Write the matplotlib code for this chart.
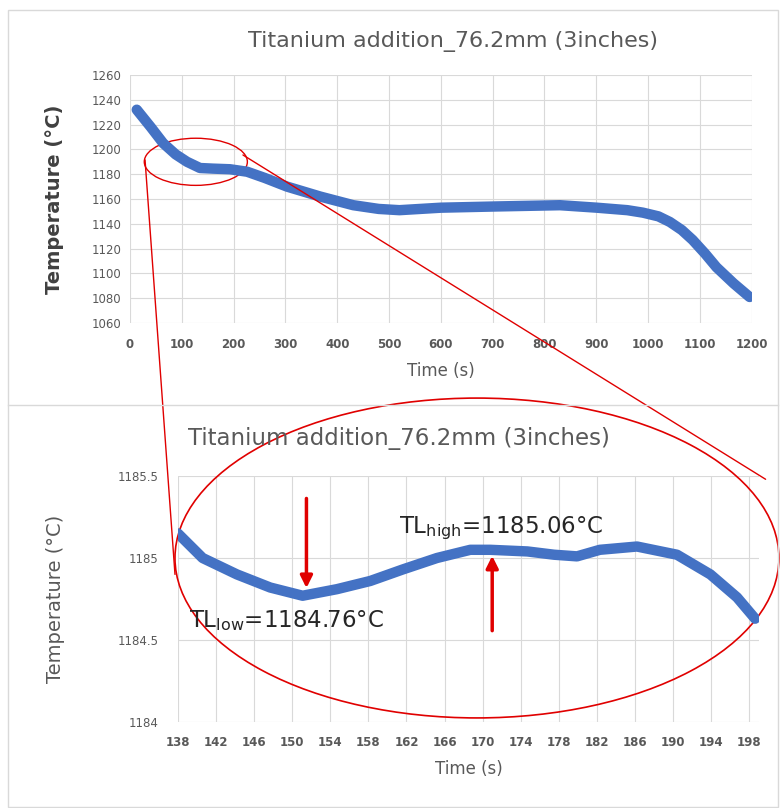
import numpy as np
import matplotlib.pyplot as plt
from matplotlib.patches import Ellipse, ConnectionPatch, Rectangle
from matplotlib.lines import Line2D

plt.rcParams['font.family'] = ['DejaVu Sans']
plt.rcParams['mathtext.default'] = 'regular'

# Curva completa
t_full = [13, 40, 64, 88, 110, 135, 160, 193, 226, 260, 303, 367, 431, 480, 520,
          600, 708, 830, 901, 960, 990, 1020, 1042, 1065, 1086, 1110, 1132, 1165, 1196]
T_full = [1232, 1218, 1205, 1196, 1190, 1185, 1184.5, 1184, 1182, 1177, 1170, 1162,
          1155, 1152, 1151, 1153, 1154, 1155, 1153, 1151, 1149, 1146, 1141.5, 1135,
          1127, 1116, 1105, 1092, 1081]

# Zoom entre 138 y 199 s
t_zoom = [138, 140.6, 144.2, 147.7, 151.1, 154.7, 158.2, 161.6, 165.2, 168.7, 170.8,
          174.7, 177.5, 179.9, 182.3, 186.2, 190.4, 193.9, 196.7, 198.6]
T_zoom = [1185.15, 1185.0, 1184.90, 1184.82, 1184.77, 1184.81, 1184.86, 1184.93,
          1185.0, 1185.05, 1185.05, 1185.04, 1185.02, 1185.01, 1185.05, 1185.07,
          1185.02, 1184.90, 1184.76, 1184.63]

T_low, t_low = 1184.76, 151.5
T_high, t_high = 1185.06, 171

titulo = 'Titanium addition_76.2mm (3inches)'
azul = '#4472C4'
gris = '#595959'
rojo = '#e00000'

fig = plt.figure(figsize=(7.8, 8.08), dpi=100)

# Marcos de los dos graficos
fig.add_artist(Rectangle((8/780, 1/808), 770/780, 797/808, transform=fig.transFigure,
                         fill=False, ec='#d9d9d9', lw=1))
fig.add_artist(Line2D([8/780, 778/780], [1-405/808, 1-405/808], transform=fig.transFigure,
                      color='#d9d9d9', lw=1))

# ---------------- grafico superior ----------------
ax1 = fig.add_axes([0.1667, 0.6002, 0.797, 0.307])
ax1.plot(t_full, T_full, color=azul, lw=7.5, solid_capstyle='round', solid_joinstyle='round')
ax1.set_xlim(0, 1200)
ax1.set_ylim(1060, 1260)
ax1.set_xticks(np.arange(0, 1201, 100))
ax1.set_yticks(np.arange(1060, 1261, 20))
ax1.grid(color='#d9d9d9', lw=0.8)
ax1.set_axisbelow(True)
for s in ax1.spines.values():
    s.set_visible(False)
ax1.tick_params(length=0, labelsize=8.5, labelcolor=gris)
ax1.tick_params(axis='x', pad=11)
ax1.tick_params(axis='y', pad=6)
for lab in ax1.get_xticklabels():
    lab.set_fontweight('bold')
ax1.set_title(titulo, fontsize=16, color=gris, pad=20, x=0.52)
ax1.set_xlabel('Time (s)', fontsize=12, color=gris, labelpad=8)
ax1.set_ylabel('Temperature (°C)', fontsize=14, color='#404040', fontweight='bold', labelpad=20)

# ---------------- grafico inferior ----------------
ax2 = fig.add_axes([0.228, 0.1064, 0.745, 0.3045])
ax2.plot(t_zoom, T_zoom, color=azul, lw=7.5, solid_capstyle='round', solid_joinstyle='round')
ax2.set_xlim(138, 199)
ax2.set_ylim(1184, 1185.5)
ax2.set_xticks(np.arange(138, 199, 4))
ax2.set_yticks([1184, 1184.5, 1185, 1185.5])
ax2.set_yticklabels(['1184', '1184.5', '1185', '1185.5'])
ax2.grid(color='#d9d9d9', lw=0.8)
ax2.set_axisbelow(True)
for s in ax2.spines.values():
    s.set_visible(False)
ax2.tick_params(length=0, labelsize=8.5, labelcolor=gris)
ax2.tick_params(axis='x', pad=10)
ax2.tick_params(axis='y', pad=14)
for lab in ax2.get_xticklabels():
    lab.set_fontweight('bold')
ax2.set_title(titulo, fontsize=16.5, color=gris, pad=22, x=0.38)
ax2.set_xlabel('Time (s)', fontsize=12, color=gris, labelpad=8)
ax2.set_ylabel('Temperature (°C)', fontsize=14, color=gris, labelpad=38)

# flechas y textos
ax2.annotate('', xy=(t_low, T_low + 0.04), xytext=(t_low, 1185.38),
             arrowprops=dict(arrowstyle='-|>', color=rojo, lw=2.5, mutation_scale=18))
ax2.annotate('', xy=(t_high, T_high - 0.03), xytext=(t_high, 1184.54),
             arrowprops=dict(arrowstyle='-|>', color=rojo, lw=2.5, mutation_scale=18))
ax2.text(139.2, 1184.62, 'TL$_{low}$=%.2f°C' % T_low, fontsize=16.5, color='#262626',
         va='center', ha='left')
ax2.text(161.2, 1185.18, 'TL$_{high}$=%.2f°C' % T_high, fontsize=16.5, color='#262626',
         va='center', ha='left')

# elipses de zoom y lineas de union
ax1.add_patch(Ellipse((127, 1190), 199, 38, fill=False, ec=rojo, lw=1, clip_on=False))
ax2.add_patch(Ellipse((169.4, 1185.0), 63.4, 1.95, fill=False, ec=rojo, lw=1.2,
                      clip_on=False))
for p1, p2 in [((29, 1191.5), (137.7, 1184.9)), ((218, 1195.5), (199.7, 1185.48))]:
    con = ConnectionPatch(xyA=p1, coordsA=ax1.transData, xyB=p2, coordsB=ax2.transData,
                          color=rojo, lw=1)
    fig.add_artist(con)

plt.savefig('out.png', dpi=100)
plt.close()
